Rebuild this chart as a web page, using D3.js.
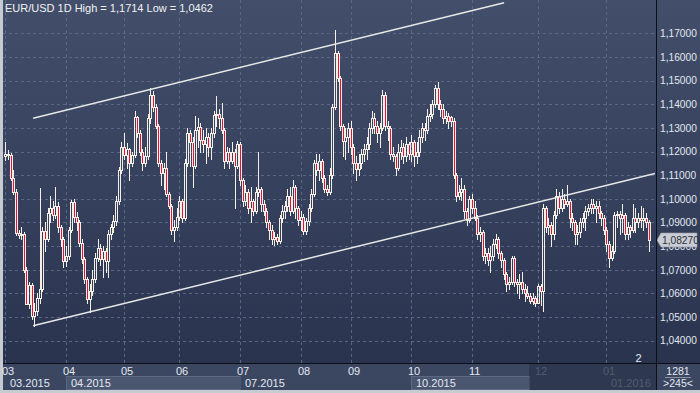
<!DOCTYPE html>
<html><head><meta charset="utf-8">
<script src="https://cdn.jsdelivr.net/npm/d3@7"></script>
<style>
html,body{margin:0;padding:0;background:#c6cad1;}
svg{display:block;font-family:"Liberation Sans Narrow","Arial Narrow","Liberation Sans",Arial,sans-serif;}
</style></head><body>
<svg id="c" width="700" height="393"></svg>
<script>
const title = "EUR/USD 1D High = 1,1714 Low = 1,0462";
const open = [
1.1180,1.1190,1.1185,1.1090,1.1030,1.0855,1.0845,1.0850,1.0700,1.0555,
1.0635,1.0505,1.0525,1.0580,1.0620,1.0865,1.0830,1.0940,1.0960,1.0930,
1.0970,1.0880,1.0830,1.0735,1.0760,1.0870,1.0985,1.0925,1.0900,1.0815,
1.0745,1.0660,1.0575,1.0610,1.0660,1.0750,1.0790,1.0745,1.0780,1.0735,
1.0850,1.0880,1.0905,1.0990,1.1120,1.1220,1.1185,1.1210,1.1150,1.1185,
1.1345,1.1280,1.1200,1.1150,1.1180,1.1340,1.1440,1.1390,1.1310,1.1150,
1.1110,1.1130,1.1020,1.0970,1.0870,1.0880,1.0925,1.0990,1.0920,1.1150,
1.1280,1.1240,1.1140,1.1290,1.1305,1.1250,1.1230,1.1260,1.1220,1.1280,
1.1355,1.1360,1.1340,1.1290,1.1160,1.1200,1.1160,1.1200,1.1140,1.1230,
1.1080,1.0990,1.1030,1.0960,1.0990,1.0950,1.1030,1.1040,1.0980,1.0950,
1.0900,1.0870,1.0830,1.0840,1.0820,1.0920,1.0950,1.0970,1.1010,1.0950,
1.1050,1.0960,1.0910,1.0925,1.0865,1.0905,1.0960,1.1020,1.1150,1.1120,
1.1160,1.1090,1.1040,1.1030,1.1100,1.1390,1.1615,1.1512,1.1306,1.1245,
1.1260,1.1300,1.1220,1.1150,1.1125,1.1150,1.1190,1.1210,1.1230,1.1300,
1.1340,1.1310,1.1280,1.1300,1.1440,1.1310,1.1300,1.1190,1.1180,1.1130,
1.1200,1.1220,1.1180,1.1230,1.1190,1.1240,1.1180,1.1200,1.1260,1.1300,
1.1290,1.1350,1.1360,1.1400,1.1470,1.1400,1.1380,1.1340,1.1350,1.1345,
1.1330,1.1100,1.1010,1.1030,1.1040,1.0950,1.0910,1.1000,1.0960,1.0920,
1.0850,1.0860,1.0760,1.0770,1.0740,1.0760,1.0810,1.0830,1.0770,1.0740,
1.0680,1.0640,1.0650,1.0750,1.0650,1.0640,1.0650,1.0620,1.0600,1.0590,
1.0570,1.0580,1.0560,1.0630,1.0610,1.0960,1.0880,1.0890,1.0850,1.0930,
1.1010,1.0960,1.1000,1.0980,1.0990,1.0920,1.0900,1.0850,1.0860,1.0900,
1.0920,1.0950,1.0960,1.0980,1.0960,1.0970,1.0940,1.0920,1.0870,1.0810,
1.0750,1.0780,1.0930,1.0935,1.0920,1.0930,1.0850,1.0880,1.0870,1.0920,
1.0900,1.0920,1.0910,1.0920,1.0900];
const high = [
1.1240,1.1205,1.1195,1.1120,1.1040,1.0870,1.0880,1.0860,1.0710,1.0650,
1.0645,1.0560,1.0600,1.1045,1.0880,1.0900,1.0960,1.1010,1.0990,1.1050,
1.0985,1.0890,1.0840,1.0800,1.0880,1.0995,1.1000,1.0945,1.0910,1.0830,
1.0755,1.0670,1.0640,1.0700,1.0770,1.0830,1.0810,1.0800,1.0790,1.0870,
1.0895,1.0930,1.1010,1.1135,1.1240,1.1280,1.1235,1.1215,1.1200,1.1370,
1.1350,1.1290,1.1210,1.1220,1.1360,1.1467,1.1455,1.1400,1.1315,1.1165,
1.1150,1.1200,1.1030,1.0980,1.0910,1.0960,1.1010,1.1000,1.1170,1.1300,
1.1290,1.1260,1.1350,1.1340,1.1320,1.1290,1.1300,1.1280,1.1300,1.1370,
1.1435,1.1380,1.1405,1.1300,1.1220,1.1215,1.1240,1.1210,1.1245,1.1240,
1.1090,1.1060,1.1040,1.1050,1.1000,1.1050,1.1200,1.1050,1.0995,1.0960,
1.0910,1.0890,1.0860,1.0850,1.0930,1.0975,1.0990,1.1040,1.1050,1.1080,
1.1060,1.0970,1.0950,1.0935,1.0920,1.0980,1.1040,1.1165,1.1190,1.1190,
1.1170,1.1100,1.1060,1.1130,1.1400,1.1714,1.1625,1.1520,1.1315,1.1300,
1.1320,1.1330,1.1230,1.1180,1.1190,1.1210,1.1230,1.1260,1.1320,1.1370,
1.1365,1.1330,1.1320,1.1460,1.1450,1.1330,1.1310,1.1220,1.1190,1.1230,
1.1250,1.1235,1.1260,1.1240,1.1270,1.1250,1.1240,1.1290,1.1320,1.1320,
1.1380,1.1400,1.1420,1.1480,1.1495,1.1420,1.1400,1.1370,1.1365,1.1350,
1.1340,1.1110,1.1060,1.1090,1.1060,1.0960,1.1010,1.1020,1.0990,1.0930,
1.0880,1.0870,1.0790,1.0790,1.0800,1.0830,1.0850,1.0840,1.0780,1.0750,
1.0690,1.0670,1.0760,1.0760,1.0660,1.0680,1.0690,1.0640,1.0630,1.0600,
1.0600,1.0590,1.0640,1.0640,1.0980,1.0970,1.0920,1.0900,1.0950,1.1040,
1.1030,1.1040,1.1020,1.1060,1.1000,1.0940,1.0910,1.0890,1.0920,1.0940,
1.0970,1.0980,1.1000,1.1000,1.0990,1.0990,1.0950,1.0930,1.0880,1.0820,
1.0800,1.0945,1.0950,1.0950,1.0980,1.0940,1.0900,1.0890,1.0980,1.0960,
1.0940,1.0970,1.0960,1.0940,1.0910];
const low = [
1.1165,1.1170,1.1080,1.1020,1.0845,1.0835,1.0830,1.0690,1.0555,1.0540,
1.0490,1.0462,1.0510,1.0560,1.0610,1.0780,1.0820,1.0900,1.0910,1.0920,
1.0860,1.0800,1.0710,1.0715,1.0745,1.0860,1.0900,1.0870,1.0800,1.0730,
1.0645,1.0560,1.0520,1.0595,1.0650,1.0735,1.0720,1.0670,1.0690,1.0670,
1.0830,1.0860,1.0890,1.0980,1.1110,1.1170,1.1130,1.1080,1.1140,1.1175,
1.1260,1.1185,1.1120,1.1140,1.1170,1.1320,1.1370,1.1300,1.1140,1.1060,
1.1040,1.1010,1.0960,1.0850,1.0820,1.0870,1.0910,1.0900,1.0910,1.1140,
1.1140,1.1050,1.1130,1.1220,1.1200,1.1200,1.1150,1.1180,1.1170,1.1260,
1.1310,1.1300,1.1280,1.1130,1.1150,1.1130,1.1150,1.0960,1.1130,1.1060,
1.0970,1.0975,1.0940,1.0900,1.0930,1.0940,1.1010,1.0950,1.0930,1.0880,
1.0830,1.0810,1.0805,1.0808,1.0815,1.0900,1.0920,1.0950,1.0930,1.0940,
1.0920,1.0890,1.0870,1.0850,1.0850,1.0890,1.0950,1.1010,1.1100,1.1080,
1.1070,1.1030,1.1015,1.1020,1.1090,1.1380,1.1500,1.1290,1.1180,1.1170,
1.1200,1.1190,1.1110,1.1080,1.1100,1.1130,1.1160,1.1170,1.1210,1.1280,
1.1280,1.1240,1.1220,1.1290,1.1290,1.1250,1.1170,1.1160,1.1100,1.1120,
1.1170,1.1150,1.1160,1.1170,1.1160,1.1140,1.1150,1.1180,1.1240,1.1250,
1.1280,1.1330,1.1340,1.1390,1.1380,1.1350,1.1320,1.1320,1.1300,1.1310,
1.1090,1.0990,1.1000,1.0995,1.0920,1.0890,1.0900,1.0940,1.0910,1.0830,
1.0820,1.0740,1.0730,1.0720,1.0690,1.0740,1.0790,1.0750,1.0710,1.0660,
1.0610,1.0620,1.0640,1.0630,1.0600,1.0580,1.0600,1.0570,1.0580,1.0560,
1.0555,1.0545,1.0560,1.0550,1.0525,1.0860,1.0850,1.0800,1.0830,1.0920,
1.0940,1.0950,1.0960,1.0970,1.0880,1.0870,1.0810,1.0810,1.0840,1.0880,
1.0870,1.0930,1.0940,1.0940,1.0900,1.0920,1.0890,1.0850,1.0780,1.0710,
1.0740,1.0770,1.0880,1.0850,1.0860,1.0830,1.0830,1.0840,1.0860,1.0860,
1.0880,1.0880,1.0870,1.0880,1.0780];
const close = [
1.1190,1.1185,1.1090,1.1030,1.0855,1.0845,1.0850,1.0700,1.0555,1.0635,
1.0505,1.0525,1.0580,1.0620,1.0865,1.0830,1.0940,1.0960,1.0930,1.0970,
1.0880,1.0830,1.0735,1.0760,1.0870,1.0985,1.0925,1.0900,1.0815,1.0745,
1.0660,1.0575,1.0610,1.0660,1.0750,1.0790,1.0745,1.0780,1.0735,1.0850,
1.0880,1.0905,1.0990,1.1120,1.1220,1.1185,1.1210,1.1150,1.1185,1.1345,
1.1280,1.1200,1.1150,1.1180,1.1340,1.1440,1.1390,1.1310,1.1150,1.1110,
1.1130,1.1020,1.0970,1.0870,1.0880,1.0925,1.0990,1.0920,1.1150,1.1280,
1.1240,1.1140,1.1290,1.1305,1.1250,1.1230,1.1260,1.1220,1.1280,1.1355,
1.1360,1.1340,1.1290,1.1160,1.1200,1.1160,1.1200,1.1140,1.1230,1.1080,
1.0990,1.1030,1.0960,1.0990,1.0950,1.1030,1.1040,1.0980,1.0950,1.0900,
1.0870,1.0830,1.0840,1.0820,1.0920,1.0950,1.0970,1.1010,1.0950,1.1050,
1.0960,1.0910,1.0925,1.0865,1.0905,1.0960,1.1020,1.1150,1.1120,1.1160,
1.1090,1.1040,1.1030,1.1100,1.1390,1.1615,1.1512,1.1306,1.1245,1.1260,
1.1300,1.1220,1.1150,1.1125,1.1150,1.1190,1.1210,1.1230,1.1300,1.1340,
1.1310,1.1280,1.1300,1.1440,1.1310,1.1300,1.1190,1.1180,1.1130,1.1200,
1.1220,1.1180,1.1230,1.1190,1.1240,1.1180,1.1200,1.1260,1.1300,1.1290,
1.1350,1.1360,1.1400,1.1470,1.1400,1.1380,1.1340,1.1350,1.1330,1.1330,
1.1100,1.1010,1.1030,1.1040,1.0950,1.0910,1.1000,1.0960,1.0920,1.0850,
1.0860,1.0760,1.0770,1.0740,1.0760,1.0810,1.0830,1.0770,1.0740,1.0680,
1.0640,1.0650,1.0750,1.0650,1.0640,1.0650,1.0620,1.0600,1.0590,1.0570,
1.0580,1.0560,1.0630,1.0610,1.0960,1.0880,1.0890,1.0850,1.0930,1.1010,
1.0960,1.1000,1.0980,1.0990,1.0920,1.0900,1.0850,1.0860,1.0900,1.0920,
1.0950,1.0960,1.0980,1.0960,1.0970,1.0940,1.0920,1.0870,1.0810,1.0750,
1.0780,1.0930,1.0935,1.0920,1.0930,1.0850,1.0880,1.0870,1.0920,1.0900,
1.0920,1.0910,1.0920,1.0900,1.0827];
const priceTicks = [1.04,1.05,1.06,1.07,1.08,1.09,1.10,1.11,1.12,1.13,1.14,1.15,1.16,1.17];
const monthIdx = [0,23,45,66,89,112,131,154,177,202,228];
const monthLabels = ["03","04","05","06","07","08","09","10","11","12","01"];
const periodIdx = [0,23,89,154,228];
const periodLabels = ["03.2015","04.2015","07.2015","10.2015","01.2016"];
const channelUpper = [[10.5,1.1341],[189.2,1.1829]];
const channelLower = [[10.5,1.0463],[246.4,1.1107]];
const lastPrice = 1.0827;
const barsTotal = "1281";
const barsVisible = ">245<";
const markerText = "2";

const W=700,H=393, L=3, R=656, T=0, B=363, AXB=390;
const svg = d3.select("#c");
const N = close.length;
const x = d3.scaleLinear().domain([0,N-1]).range([5.4,648.6]);
const y = d3.scaleLinear().domain([1.04,1.17]).range([340.7,33.3]);
const fmt = v => d3.format(".5f")(v).replace(".",",");

const defs = svg.append("defs");
const gr = defs.append("linearGradient").attr("id","bg").attr("x1",0).attr("y1",0).attr("x2",0).attr("y2",1);
gr.append("stop").attr("offset","0%").attr("stop-color","#424e6a");
gr.append("stop").attr("offset","55%").attr("stop-color","#35405c");
gr.append("stop").attr("offset","100%").attr("stop-color","#29334e");
defs.append("clipPath").attr("id","clip").append("rect").attr("x",L).attr("y",T).attr("width",R-L).attr("height",B-T);

// frame
svg.append("rect").attr("x",0).attr("y",0).attr("width",W).attr("height",H).attr("fill","#c6cad1");
svg.append("rect").attr("x",L).attr("y",0).attr("width",W-L).attr("height",B).attr("fill","url(#bg)");
svg.append("rect").attr("x",L).attr("y",B).attr("width",W-L).attr("height",AXB-B).attr("fill","#3b4661");

// grid
const grid = svg.append("g").attr("clip-path","url(#clip)").attr("stroke","#5b6782").attr("stroke-dasharray","3,3").attr("stroke-width",1);
grid.selectAll("line.h").data(priceTicks).join("line").attr("class","h")
  .attr("x1",L).attr("x2",R).attr("y1",d=>Math.round(y(d))+0.5).attr("y2",d=>Math.round(y(d))+0.5);
grid.selectAll("line.v").data(monthIdx).join("line").attr("class","v")
  .attr("y1",T).attr("y2",B).attr("x1",d=>Math.round(x(d))+0.5).attr("x2",d=>Math.round(x(d))+0.5);

// candles
const bars = d3.range(N).map(i=>({i,o:open[i],h:high[i],l:low[i],c:close[i]}));
const cg = svg.append("g").attr("clip-path","url(#clip)");
const WHITE="#f5efe6", RED="#e3123b";
cg.selectAll("g").data(bars).join("g").each(function(d){
  const g = d3.select(this);
  const cx = Math.round(x(d.i));
  const top = Math.round(y(Math.max(d.o,d.c))), bot = Math.round(y(Math.min(d.o,d.c)));
  const yh = Math.round(y(d.h)), yl = Math.round(y(d.l));
  if (yh < top) g.append("line").attr("x1",cx+0.5).attr("x2",cx+0.5).attr("y1",yh).attr("y2",top).attr("stroke",WHITE);
  if (yl > bot) g.append("line").attr("x1",cx+0.5).attr("x2",cx+0.5).attr("y1",bot+1).attr("y2",yl+1).attr("stroke",WHITE);
  g.append("rect").attr("x",cx-0.5).attr("y",top+0.5).attr("width",2).attr("height",Math.max(bot-top,1))
    .attr("fill", d.c<d.o ? RED : "none").attr("stroke",WHITE).attr("stroke-width",1);
});

// channel lines
const line = d3.line().x(d=>x(d[0])).y(d=>y(d[1]));
const chg = svg.append("g").attr("clip-path","url(#clip)");
[channelUpper, channelLower].forEach(c=>{
  chg.append("path").attr("d",line(c)).attr("fill","none").attr("stroke","#e8e8e8").attr("stroke-width",1.5);
});

// title
svg.append("text").attr("x",5).attr("y",12).attr("fill","#f2f2f2").attr("font-size",11).text(title);

// marker
svg.append("text").attr("x",638.5).attr("y",362).attr("text-anchor","middle").attr("fill","#e6ebf2").attr("font-size",11).text(markerText);
svg.append("path").attr("d","M643,362 L647.5,357 L652,362 Z").attr("fill","#2b3349");

// right axis
const ax = svg.append("g").attr("transform",`translate(${R},0)`)
  .call(d3.axisRight(y).tickValues(priceTicks).tickFormat(fmt).tickSize(0).tickPadding(4));
ax.select(".domain").remove();
ax.selectAll("text").attr("fill","#e3e9f1").attr("font-size",10.2)
  .attr("font-family","'Liberation Sans Narrow','Arial Narrow','Liberation Sans',Arial,sans-serif");

// price tag
const py = Math.round(y(lastPrice));
svg.append("path").attr("d",`M657,${py} L661,${py-7} L697,${py-7} L697,${py+7} L661,${py+7} Z`)
  .attr("fill","#c8ccd4").attr("stroke","#9aa0ab").attr("stroke-width",0.6);
svg.append("text").attr("x",662).attr("y",py+4).attr("fill","#2e3038").attr("font-size",10.2).text(fmt(lastPrice));

// bottom axis: period boxes
const pStart = periodIdx.map(i=>Math.round(x(i)));
const boxes = [[L, pStart[1], false],[pStart[1], pStart[2], true],[pStart[2], pStart[3], false],[pStart[3], 529, true]];
svg.selectAll("rect.pbox").data(boxes).join("rect").attr("class","pbox")
  .attr("x",d=>d[0]+0.5).attr("y",376.5).attr("width",d=>d[1]-d[0]).attr("height",13)
  .attr("fill",d=>d[2]?"#4a5570":"#3b4661").attr("stroke",d=>d[2]?"#5c6782":"none");
const isDim = i => x(i) >= 529;
svg.selectAll("text.mon").data(monthIdx).join("text").attr("class","mon")
  .attr("x",d=>Math.round(x(d))-3).attr("y",375).attr("font-size",11)
  .attr("fill",d=>isDim(d)?"#7d8698":"#e3e9f1").text((d,i)=>monthLabels[i]);
svg.selectAll("text.per").data(periodIdx).join("text").attr("class","per")
  .attr("x",d=>Math.round(x(d))+5).attr("y",387).attr("font-size",11)
  .attr("fill",d=>isDim(d)?"#7d8698":"#e3e9f1").text((d,i)=>periodLabels[i]);
svg.append("rect").attr("x",529).attr("y",B+1).attr("width",R-529).attr("height",AXB-B-1).attr("fill","#1f273b").attr("opacity",0.45);

// bars count
svg.append("text").attr("x",678).attr("y",375).attr("text-anchor","middle").attr("fill","#e3e9f1").attr("font-size",10.5).text(barsTotal);
svg.append("line").attr("x1",665).attr("x2",691).attr("y1",377.5).attr("y2",377.5).attr("stroke","#8a93a5");
svg.append("text").attr("x",678).attr("y",387).attr("text-anchor","middle").attr("fill","#e3e9f1").attr("font-size",10.5).text(barsVisible);

// black borders
svg.append("line").attr("x1",R+0.5).attr("x2",R+0.5).attr("y1",0).attr("y2",AXB).attr("stroke","#0c0f16");
svg.append("line").attr("x1",L).attr("x2",W).attr("y1",B+0.5).attr("y2",B+0.5).attr("stroke","#0c0f16");
</script>
</body></html>
